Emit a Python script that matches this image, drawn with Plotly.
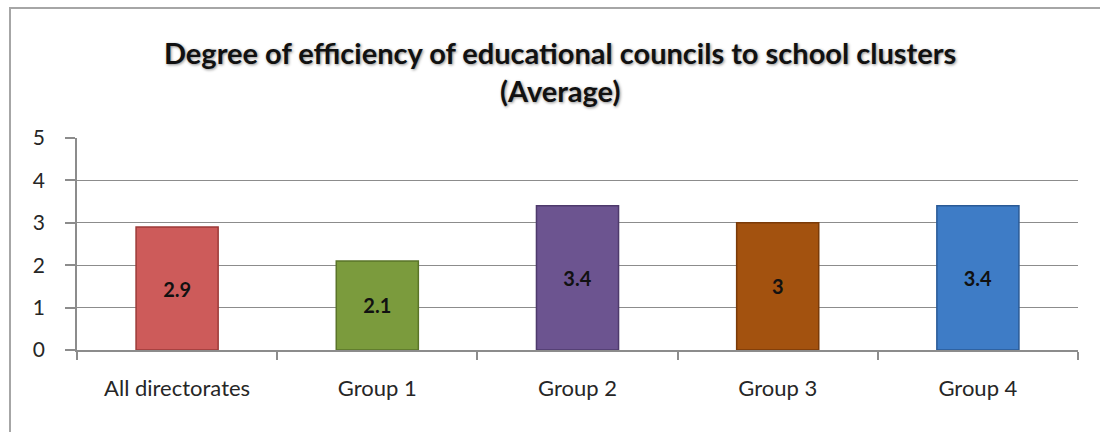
import plotly.graph_objects as go

categories = ["All directorates", "Group 1", "Group 2", "Group 3", "Group 4"]
averages = [2.9, 2.1, 3.4, 3.0, 3.4]
value_labels = ["2.9", "2.1", "3.4", "3", "3.4"]
bar_colors = ["#CD5B5A", "#7B9B3D", "#6C5490", "#A3520F", "#3E7CC6"]
edge_colors = ["#9C3A38", "#5A7429", "#4E3A6C", "#7A3A08", "#2A5A96"]
y_ticks = [0, 1, 2, 3, 4, 5]

W, H = 1100, 432
L, R, T, B = 77, 22, 138, 82
pw, ph = W - L - R, H - T - B


def px_x(x):
    return (x - L) / pw


def px_y(y):
    return (H - B - y) / ph


fig = go.Figure(
    go.Bar(
        x=categories,
        y=averages,
        width=0.41,
        marker=dict(color=bar_colors, line=dict(color=edge_colors, width=1.5)),
        text=value_labels,
        textposition="inside",
        insidetextanchor="middle",
        textangle=0,
        textfont=dict(family="Lato", size=20, color="#111111", weight="bold"),
        cliponaxis=False,
    )
)

fig.update_layout(
    width=W,
    height=H,
    margin=dict(l=L, r=R, t=T, b=B),
    paper_bgcolor="white",
    plot_bgcolor="white",
    showlegend=False,
    bargap=0.59,
    font=dict(family="Lato", color="#222222"),
    uniformtext=dict(minsize=20, mode="show"),
)

fig.update_xaxes(
    type="category",
    showline=True,
    linecolor="#8C8C8C",
    linewidth=1.5,
    ticks="outside",
    tickson="boundaries",
    ticklen=8,
    tickcolor="#8C8C8C",
    tickwidth=1.5,
    showgrid=False,
    tickfont=dict(family="Lato", size=22, color="#262626"),
    ticklabelstandoff=18,
)

fig.update_yaxes(
    range=[0, 5],
    tickvals=y_ticks,
    showline=True,
    linecolor="#8C8C8C",
    linewidth=1.5,
    ticks="outside",
    ticklen=10,
    tickcolor="#8C8C8C",
    tickwidth=1.5,
    showgrid=True,
    gridcolor="#8C8C8C",
    gridwidth=1.2,
    zeroline=False,
    tickfont=dict(family="Lato", size=21, color="#262626"),
    ticklabelstandoff=16,
)

# chart frame
fig.add_shape(
    type="rect",
    xref="paper", yref="paper",
    x0=px_x(10), x1=px_x(1112),
    y0=px_y(445), y1=px_y(8),
    line=dict(color="#A6A6A6", width=2),
    fillcolor="rgba(0,0,0,0)",
    layer="below",
)

title_lines = [
    ("Degree of efficiency of educational councils to school clusters", 52),
    ("(Average)", 90),
]
for txt, ypx in title_lines:
    fig.add_annotation(
        text=txt,
        xref="paper", yref="paper",
        x=px_x(560), y=px_y(ypx),
        xanchor="center", yanchor="middle",
        showarrow=False,
        font=dict(family="Lato", size=29, color="#111111", weight="bold",
                  shadow="1px 1px 3px rgba(0,0,0,0.45)"),
    )

fig.write_html("out.html")
